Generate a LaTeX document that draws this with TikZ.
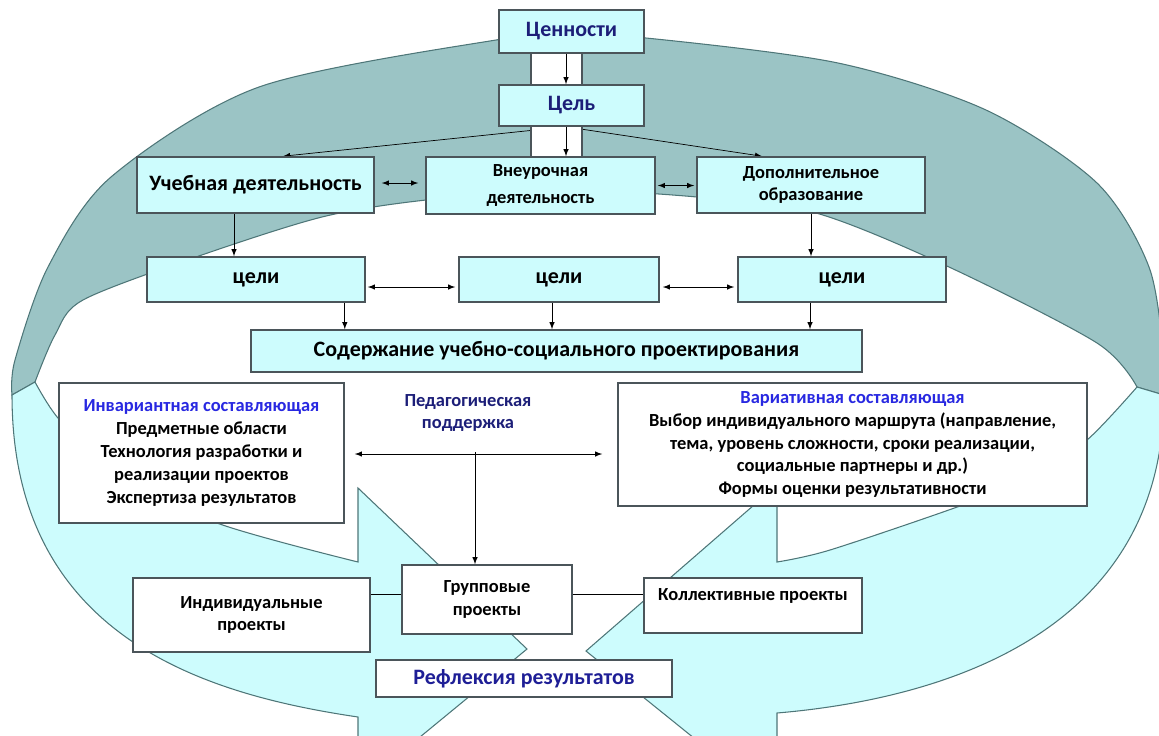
\documentclass[tikz,border=0pt]{standalone}
\usepackage{fontspec}
\setmainfont{Carlito}
\usetikzlibrary{positioning, calc}

\definecolor{backband}{RGB}{155,196,197}
\definecolor{frontband}{RGB}{205,252,253}
\definecolor{bandline}{RGB}{78,118,120}
\definecolor{boxfill}{RGB}{205,252,253}
\definecolor{boxline}{RGB}{75,85,90}
\definecolor{navy}{RGB}{28,30,120}
\definecolor{partblue}{RGB}{40,40,225}
\definecolor{reflblue}{RGB}{30,30,150}

\pgfdeclarelayer{ring}
\pgfdeclarelayer{under}
\pgfsetlayers{ring,under,main}

\begin{document}
\begin{tikzpicture}[
    x=0.2mm, y=-0.2mm, % 1 unit = 1 pixel, y runs downwards
    >=latex, % LaTeX-style arrows
    line width=0.6pt,
    box/.style={draw=boxline, fill=boxfill, line width=0.9pt, inner sep=0pt, align=center},
    wbox/.style={box, fill=white},
    big/.style={font=\bfseries\fontsize{12.5}{15}\selectfont},
    small/.style={font=\bfseries\fontsize{10.5}{13}\selectfont},
    band/.style={draw=bandline, line width=0.6pt}
]
\useasboundingbox (0,0) rectangle (1159,735);

% Ring behind the scheme
\begin{pgfonlayer}{ring}
\filldraw[band, fill=backband]
  plot[smooth] coordinates {(12,395) (15,360) (48,267) (111,177) (259,87) (496,40) (571,36) (646,38) (838,63) (986,110) (1097,183) (1149,267) (1164,360) (1164,395)}
  -- plot[smooth] coordinates {(1137,387) (1097,343) (949,267) (816,213) (697,197) (560,190) (426,200) (322,217) (196,257) (83,300) (55,335) (35,382)}
  -- cycle;
\filldraw[band, fill=frontband] % left arrow
  (12,395) .. controls (12,640) and (210,695) .. (358,717)
  -- (358,788) -- (527,649) -- (358,488) -- (358,562)
  -- plot[smooth] coordinates {(358,562) (217,523) (110,470) (58,418) (35,382)} -- cycle;
\filldraw[band, fill=frontband] % right arrow
  (1164,395) .. controls (1164,640) and (930,700) .. (777,713)
  -- (777,805) -- (586,651) -- (777,485) -- (777,562)
  -- plot[smooth] coordinates {(777,562) (830,550) (960,506) (1030,478) (1087,440) (1137,387)} -- cycle;
\end{pgfonlayer}

% Nodes
\node[wbox, minimum width=10.2mm, minimum height=20.8mm] (strip) at (556.5,105) {};
\node[box, big, text=navy, minimum width=29mm, minimum height=8.6mm] (tsen) at (571.5,31.5) {Ценности};
\node[box, big, text=navy, minimum width=29mm, minimum height=8.2mm] (tsel) at (571.5,105.5) {Цель};

\node[box, big, minimum width=47.4mm, minimum height=11.2mm] (ucheb) at (255.5,185) {Учебная деятельность};
\node[box, small, minimum width=45.8mm, minimum height=11.4mm] (vneur) at (540.5,185.5) {Внеурочная\\[2pt]деятельность};
\node[box, small, minimum width=45.6mm, minimum height=11.2mm] (dop) at (811,185) {Дополнительное\\образование};

\node[box, big, minimum width=43.6mm, minimum height=9mm] (celi1) at (256,279.5) {цели};
\node[box, big, minimum width=40mm, minimum height=9mm] (celi2) at (559,279.5) {цели};
\node[box, big, minimum width=41.6mm, minimum height=9mm] (celi3) at (842,279.5) {цели};

\node[box, big, minimum width=122.2mm, minimum height=8.4mm] (soder) at (556.5,351) {Содержание учебно-социального проектирования};

\node[wbox, small, minimum width=57mm, minimum height=28mm] (inv) at (201.5,453) {\textcolor{partblue}{Инвариантная составляющая}\\Предметные области\\Технология разработки и\\реализации проектов\\Экспертиза результатов};
\node[small, text=navy, align=center] (ped) at (468,413) {Педагогическая\\поддержка};
\node[wbox, small, minimum width=93.8mm, minimum height=24.6mm] (var) at (852.5,444.5) {\textcolor{partblue}{Вариативная составляющая}\\Выбор индивидуального маршрута (направление,\\тема, уровень сложности, сроки реализации,\\социальные партнеры и др.)\\Формы оценки результативности};
\coordinate (pedjoin) at (475,452);

\node[wbox, small, minimum width=34mm, minimum height=13.8mm] (group) at (487,599.5) {Групповые\\проекты};
\node[wbox, small, minimum width=47.4mm, minimum height=14.8mm] (indiv) at (251.5,615) {Индивидуальные\\проекты};
\node[wbox, small, minimum width=43.6mm, minimum height=11mm] (koll) at (753,605.5) {Коллективные проекты\\~};
\node[wbox, big, text=reflblue, minimum width=59.2mm, minimum height=7.4mm] (refl) at (524,678.5) {Рефлексия результатов};

% Edges
\begin{pgfonlayer}{under}
\draw[->] ([xshift=-1.1mm]tsel.south) -- ([xshift=5.5mm]ucheb.north);
\draw[->] ([xshift=-1.1mm]tsel.south) -- ([xshift=-9.8mm]dop.north);
\end{pgfonlayer}
\draw[->] ([xshift=-1.1mm]tsen.south) -- ([xshift=-1.1mm]tsen.south |- tsel.north);
\draw[->] ([xshift=-1.1mm]tsel.south) -- ([xshift=-1.1mm]tsel.south |- vneur.north);

\draw[<->, shorten <=1.4mm, shorten >=1.4mm] ([yshift=0.4mm]ucheb.east) -- ([yshift=0.4mm]ucheb.east -| vneur.west);
\draw[<->, shorten <=0.4mm, shorten >=0.4mm] (vneur.east) -- (vneur.east -| dop.west);

\draw[->] ([xshift=-4.3mm]ucheb.south) -- ([xshift=-4.3mm]ucheb.south |- celi1.north);
\draw[->] (dop.south) -- (dop.south |- celi3.north);

\draw[<->, shorten <=0.4mm, shorten >=0.6mm] ([yshift=-1.5mm]celi1.east) -- ([yshift=-1.5mm]celi1.east -| celi2.west);
\draw[<->, shorten <=0.6mm, shorten >=0.6mm] ([yshift=-1.5mm]celi2.east) -- ([yshift=-1.5mm]celi2.east -| celi3.west);

\draw[->] ([xshift=-4.2mm]celi1.south east) -- ([xshift=-4.2mm]celi1.south east |- soder.north);
\draw[->] ([xshift=-1.4mm]celi2.south) -- ([xshift=-1.4mm]celi2.south |- soder.north);
\draw[->] ([xshift=-6.4mm]celi3.south) -- ([xshift=-6.4mm]celi3.south |- soder.north);

\draw[<->, shorten <=2mm, shorten >=3mm] ([yshift=-0.2mm]inv.east) -- ([yshift=-0.2mm]inv.east -| var.west);
\draw[->] (pedjoin) -- (pedjoin |- group.north);

\draw ([yshift=4.2mm]indiv.east) -- ([yshift=4.2mm]indiv.east -| group.west);
\draw ([yshift=1.1mm]group.east) -- ([yshift=1.1mm]group.east -| koll.west);

\end{tikzpicture}
\end{document}
